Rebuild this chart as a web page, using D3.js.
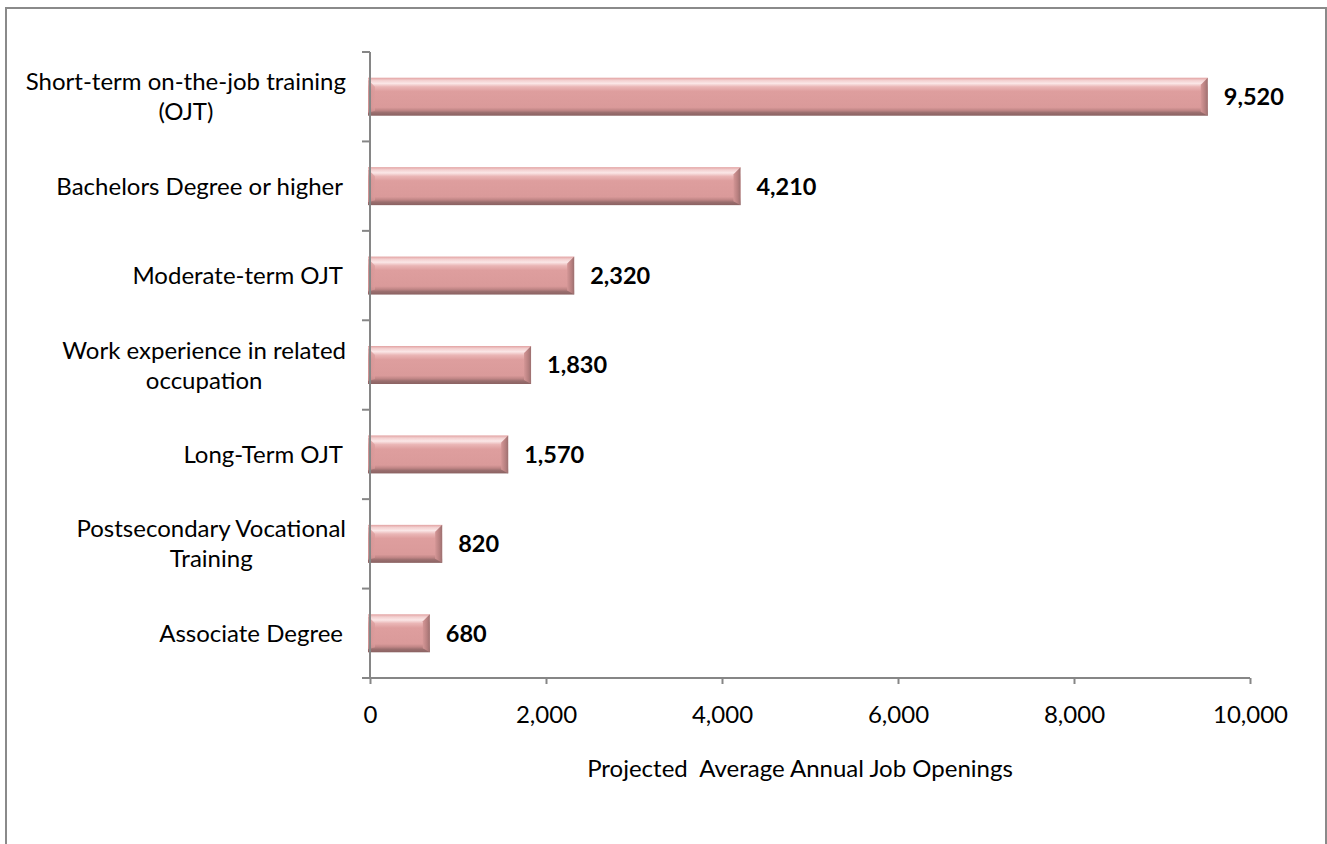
<!DOCTYPE html>
<html>
<head>
<meta charset="utf-8">
<script src="https://cdn.jsdelivr.net/npm/d3@7"></script>
<style>
  html, body { margin: 0; padding: 0; background: #fff; }
  svg { display: block; }
  text { font-family: Lato, "Open Sans", sans-serif; fill: #000; }
</style>
</head>
<body>
<svg id="chart" width="1327" height="844"></svg>
<script>
// Training categories, listed top to bottom
const categories = [
  ["Short-term on-the-job training", "(OJT)"],
  ["Bachelors Degree or higher"],
  ["Moderate-term OJT"],
  ["Work experience in related", "occupation"],
  ["Long-Term OJT"],
  ["Postsecondary Vocational", "Training"],
  ["Associate Degree"]
];
const openings = [9520, 4210, 2320, 1830, 1570, 820, 680];
const xTicks = [0, 2000, 4000, 6000, 8000, 10000];
const xTitle = "Projected  Average Annual Job Openings";

const svg = d3.select("#chart");
const fmt = d3.format(",");

// outer frame
svg.append("rect")
  .attr("x", 6).attr("y", 8).attr("width", 1320).attr("height", 850)
  .attr("fill", "none").attr("stroke", "#8a8a8a").attr("stroke-width", 2);

const plot = { left: 370, right: 1250, top: 52, bottom: 678 };

const x = d3.scaleLinear().domain([0, 10000]).range([plot.left, plot.right]);
const y = d3.scaleBand()
  .domain(d3.range(categories.length))
  .range([plot.top, plot.bottom])
  .paddingInner(0.575).paddingOuter(0.2875);

// bar shading
const defs = svg.append("defs");
const vg = defs.append("linearGradient").attr("id", "barFill")
  .attr("x1", 0).attr("y1", 0).attr("x2", 0).attr("y2", 1);
[
  [0, "#e2a2a2"], [0.07, "#f3d0d0"], [0.15, "#fbe7e7"], [0.24, "#eab6b6"],
  [0.36, "#de9e9e"], [0.78, "#da9a9a"], [0.86, "#bf8585"], [0.92, "#9a6e6e"], [1, "#8a6262"]
].forEach(([o, c]) => vg.append("stop").attr("offset", o).attr("stop-color", c));

const rg = defs.append("linearGradient").attr("id", "barEnd")
  .attr("x1", 0).attr("y1", 0).attr("x2", 1).attr("y2", 0);
[[0, "#d49696"], [0.6, "#b88080"], [1, "#9c7070"]]
  .forEach(([o, c]) => rg.append("stop").attr("offset", o).attr("stop-color", c));

const lg = defs.append("linearGradient").attr("id", "barStart")
  .attr("x1", 0).attr("y1", 0).attr("x2", 1).attr("y2", 0);
[[0, "#cf9090"], [1, "#dc9c9c"]]
  .forEach(([o, c]) => lg.append("stop").attr("offset", o).attr("stop-color", c));

const bars = svg.append("g").selectAll("g").data(openings).join("g");
const bh = y.bandwidth();
const bev = 7;

bars.append("rect")
  .attr("x", x(0) - 2)
  .attr("y", (d, i) => y(i))
  .attr("width", d => x(d) - x(0) + 2)
  .attr("height", bh)
  .attr("fill", "url(#barFill)");

// left bevel
bars.append("path")
  .attr("d", (d, i) => {
    const x0 = x(0) - 2, y0 = y(i);
    return `M${x0},${y0 + 2}L${x0 + bev},${y0 + bev + 2}L${x0 + bev},${y0 + bh - 5}L${x0},${y0 + bh - 3}Z`;
  })
  .attr("fill", "url(#barStart)").attr("opacity", 0.7);

// right bevel
bars.append("path")
  .attr("d", (d, i) => {
    const x1 = x(d), y0 = y(i);
    return `M${x1},${y0}L${x1},${y0 + bh}L${x1 - bev},${y0 + bh - 4}L${x1 - bev},${y0 + bev}Z`;
  })
  .attr("fill", "url(#barEnd)");

// value labels
bars.append("text")
  .attr("x", d => x(d) + 16)
  .attr("y", (d, i) => y(i) + bh / 2)
  .attr("dy", "0.36em")
  .attr("font-size", 23.5).attr("font-weight", "bold")
  .text(d => fmt(d));

// axes
const axisColor = "#868686";
const step = y.step();
svg.append("line")
  .attr("x1", plot.left).attr("x2", plot.left)
  .attr("y1", plot.top).attr("y2", plot.bottom)
  .attr("stroke", axisColor).attr("stroke-width", 2);
svg.append("g").selectAll("line")
  .data(d3.range(categories.length + 1))
  .join("line")
  .attr("x1", plot.left - 8).attr("x2", plot.left)
  .attr("y1", i => plot.top + i * step).attr("y2", i => plot.top + i * step)
  .attr("stroke", axisColor).attr("stroke-width", 2);

svg.append("line")
  .attr("x1", plot.left).attr("x2", plot.right)
  .attr("y1", plot.bottom).attr("y2", plot.bottom)
  .attr("stroke", axisColor).attr("stroke-width", 2);

const xAxis = d3.axisBottom(x).tickValues(xTicks).tickFormat(fmt).tickSize(6).tickPadding(22);
const gx = svg.append("g").attr("transform", `translate(0,${plot.bottom})`).call(xAxis);
gx.select(".domain").remove();
gx.selectAll(".tick line").attr("stroke", axisColor).attr("stroke-width", 2);
gx.selectAll(".tick text").attr("font-size", 24).attr("font-family", "Lato, sans-serif").attr("fill", "#000");

// category labels
const labelRight = 346;
const lineH = 30;
const lab = svg.append("g");
categories.forEach((lines, i) => {
  const cy = y(i) + bh / 2;
  const t = lab.append("text").attr("font-size", 24).attr("text-anchor", "middle");
  lines.forEach((s, k) => {
    t.append("tspan").attr("x", 0)
      .attr("y", cy + (k - (lines.length - 1) / 2) * lineH)
      .attr("dy", "0.36em").text(s);
  });
  let w = 0;
  t.selectAll("tspan").each(function () { w = Math.max(w, this.getComputedTextLength()); });
  const right = lines.length > 1 ? labelRight : labelRight - 3;
  t.selectAll("tspan").attr("x", right - w / 2);
});

// axis title
svg.append("text")
  .attr("x", 800).attr("y", 777)
  .attr("text-anchor", "middle").attr("font-size", 24)
  .attr("xml:space", "preserve")
  .text(xTitle);
</script>
</body>
</html>
